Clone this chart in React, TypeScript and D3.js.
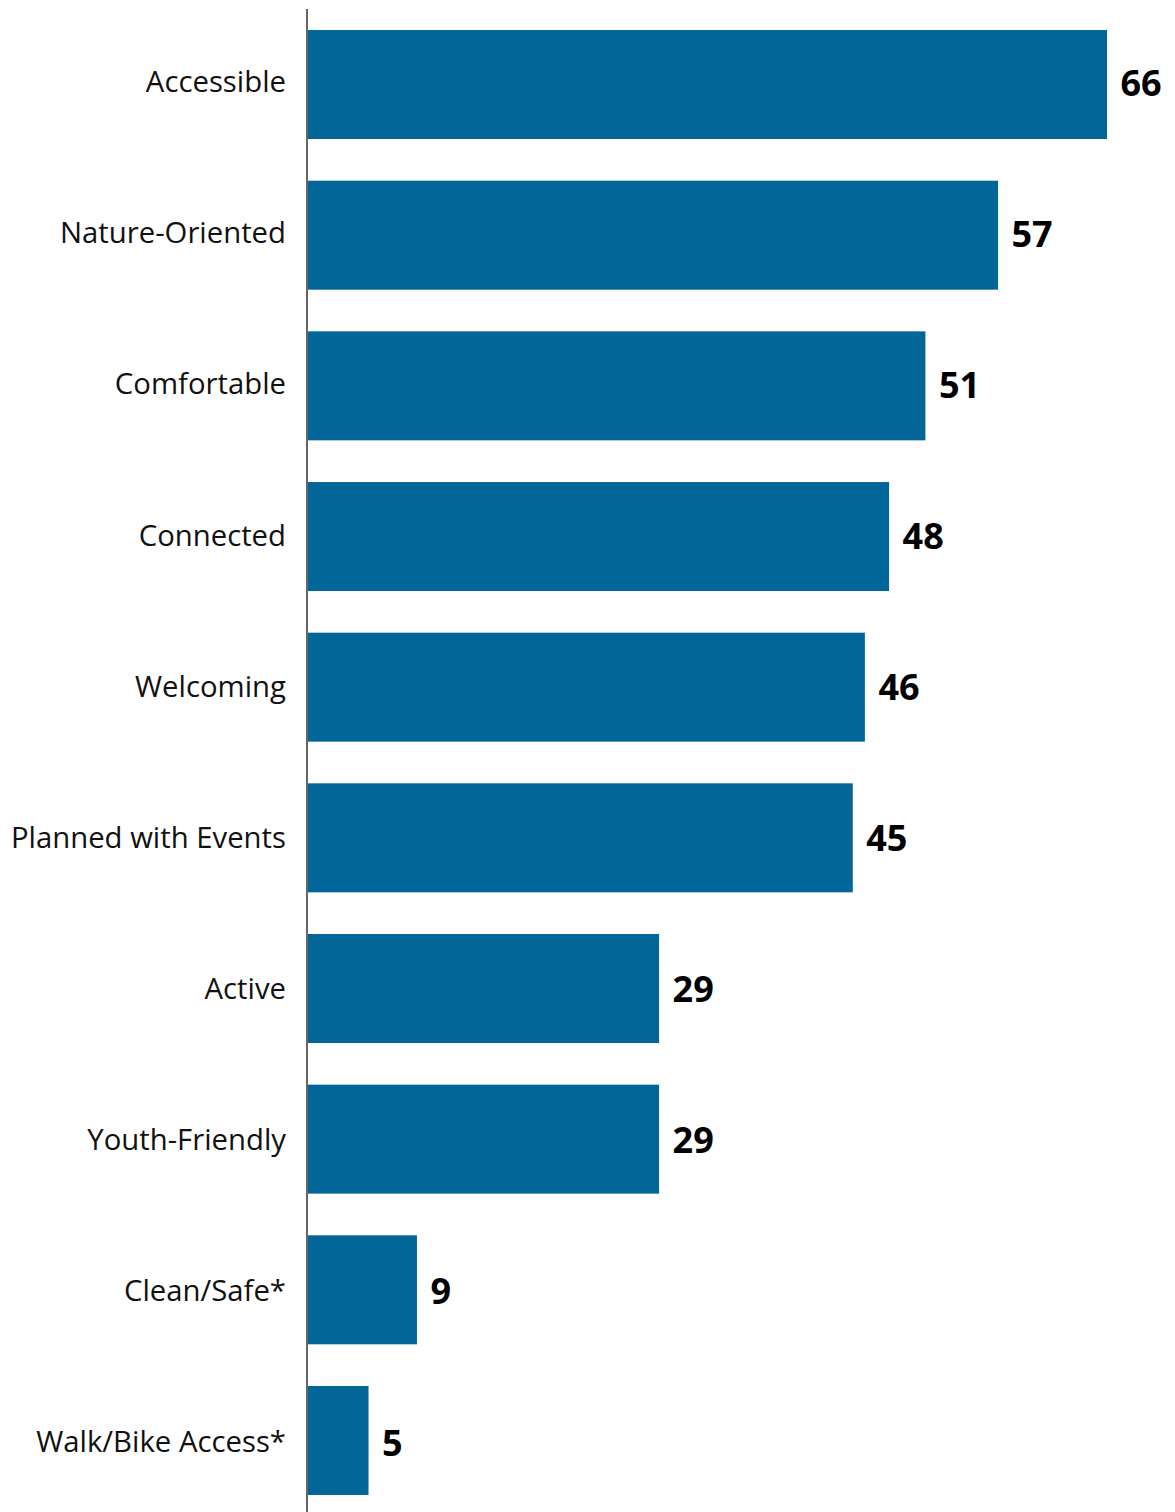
import React from "react";
import * as d3 from "d3";

const categories = [
  "Accessible",
  "Nature-Oriented",
  "Comfortable",
  "Connected",
  "Welcoming",
  "Planned with Events",
  "Active",
  "Youth-Friendly",
  "Clean/Safe*",
  "Walk/Bike Access*",
];
const values = [66, 57, 51, 48, 46, 45, 29, 29, 9, 5];

const W = 1175;
const H = 1512;
const AXIS_X = 307;

export default function App() {
  const x = d3.scaleLinear().domain([0, 66]).range([308, 1107]);
  const y = d3
    .scaleBand<string>()
    .domain(categories)
    .range([9.2, 1515.8])
    .paddingInner(0.2766)
    .paddingOuter(0.1383);
  // text rows sit on a slightly wider spacing than the bars
  const yText = d3
    .scaleBand<string>()
    .domain(categories)
    .range([9.2, 1520.3])
    .paddingInner(0.2766)
    .paddingOuter(0.1383);
  const bw = y.bandwidth();
  const tw = yText.bandwidth();
  return (
    <svg
      width={W}
      height={H}
      style={{ position: "absolute", left: 0, top: 0, background: "#fff" }}
      fontFamily="'Open Sans', sans-serif"
    >
      {categories.map((c, i) => {
        const yt = (yText(c) as number) + tw / 2;
        return (
          <g key={c}>
            <rect x={x(0)} y={y(c)} width={x(values[i]) - x(0)} height={bw} fill="#036699" />
            <text x={286} y={yt + 7.5} textAnchor="end" fontSize={29.3} fill="#111">
              {c}
            </text>
            <text x={x(values[i]) + 13.5} y={yt + 10.8} fontSize={36} fontWeight="bold" fill="#000">
              {values[i]}
            </text>
          </g>
        );
      })}
      <line x1={AXIS_X} x2={AXIS_X} y1={9} y2={H} stroke="#666" strokeWidth={2} />
    </svg>
  );
}
